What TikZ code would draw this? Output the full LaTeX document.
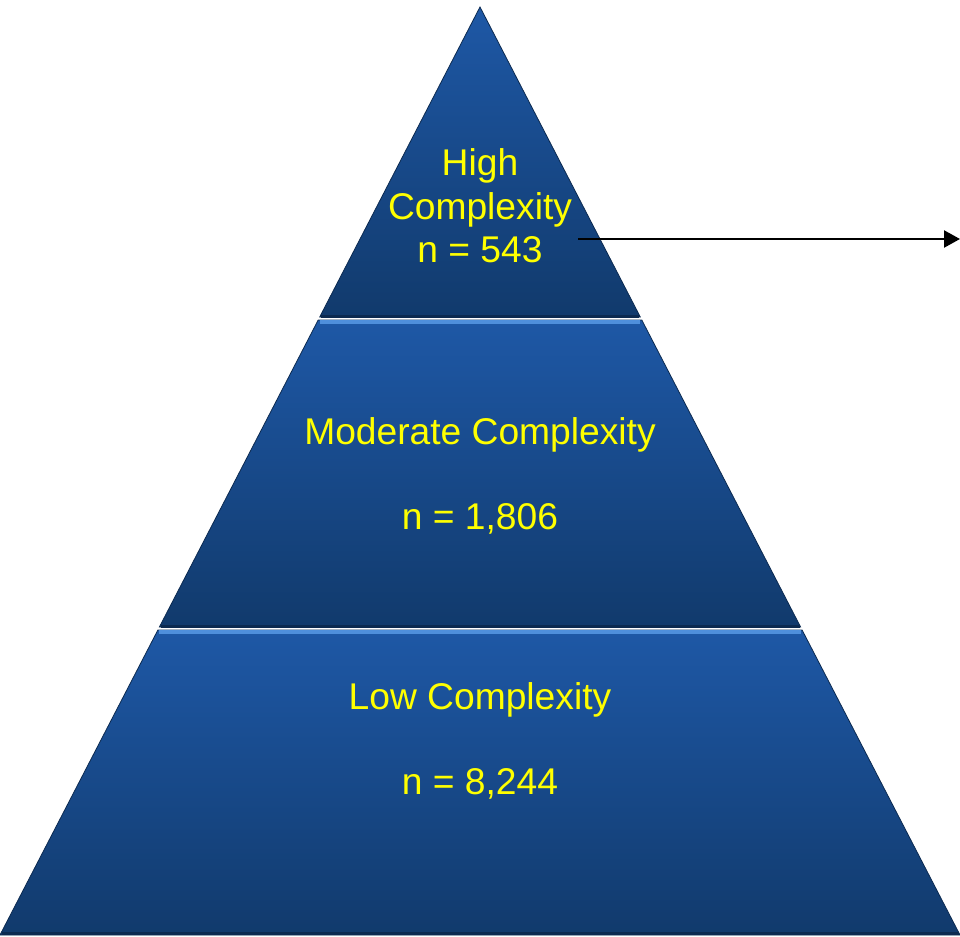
\documentclass[tikz,border=0pt]{standalone}
\usepackage{fontspec}
\setmainfont{Liberation Sans}
\usetikzlibrary{arrows.meta}

\definecolor{bandtop}{HTML}{1E58A6}
\definecolor{bandbot}{HTML}{113A6C}
\definecolor{bevel}{HTML}{4F8FDB}
\definecolor{rim}{HTML}{0C2A50}
\definecolor{txtyellow}{HTML}{FFFF00}

\begin{document}
\begin{tikzpicture}[x=0.5pt,y=-0.5pt,
                    band/.style={top color=bandtop,bottom color=bandbot,draw=rim,line width=0.4pt},
                    bevelline/.style={bevel,line width=2pt},
                    rimline/.style={rim,line width=1.5pt},
                    tier/.style={text=txtyellow,align=center,inner sep=0pt,
                                 font=\fontsize{18.6}{21.8}\selectfont},
                    pointer/.style={-{Triangle[length=8pt,width=8.5pt]},line width=1.2pt}]

  \useasboundingbox (0,0) rectangle (960,937);

  % the three tiers
  \path[band] (480,7) -- (640.3,317) -- (319.7,317) -- cycle;
  \path[band] (318.2,320) -- (641.8,320) -- (800.6,627) -- (159.4,627) -- cycle;
  \path[band] (157.9,630) -- (802.1,630) -- (960,935) -- (0,935) -- cycle;

  % bevel edges
  \draw[rimline]   (321,316) -- (639,316);
  \draw[bevelline] (320,322) -- (640,322);
  \draw[rimline]   (160.5,626) -- (799.5,626);
  \draw[bevelline] (159,632) -- (801,632);
  \draw[rimline]   (1.5,933) -- (958.5,933);

  % labels
  \node[tier] (high) at (480,206) {High\\Complexity\\n = 543};
  \node[tier] (moderate) at (480,476) {Moderate Complexity\\[21pt]n = 1,806};
  \node[tier] (low) at (480,741) {Low Complexity\\[21pt]n = 8,244};

  \coordinate (callout) at (578,239);
  \coordinate (outside) at (960,239);
  \draw[pointer] (callout) -- (outside);

\end{tikzpicture}
\end{document}
